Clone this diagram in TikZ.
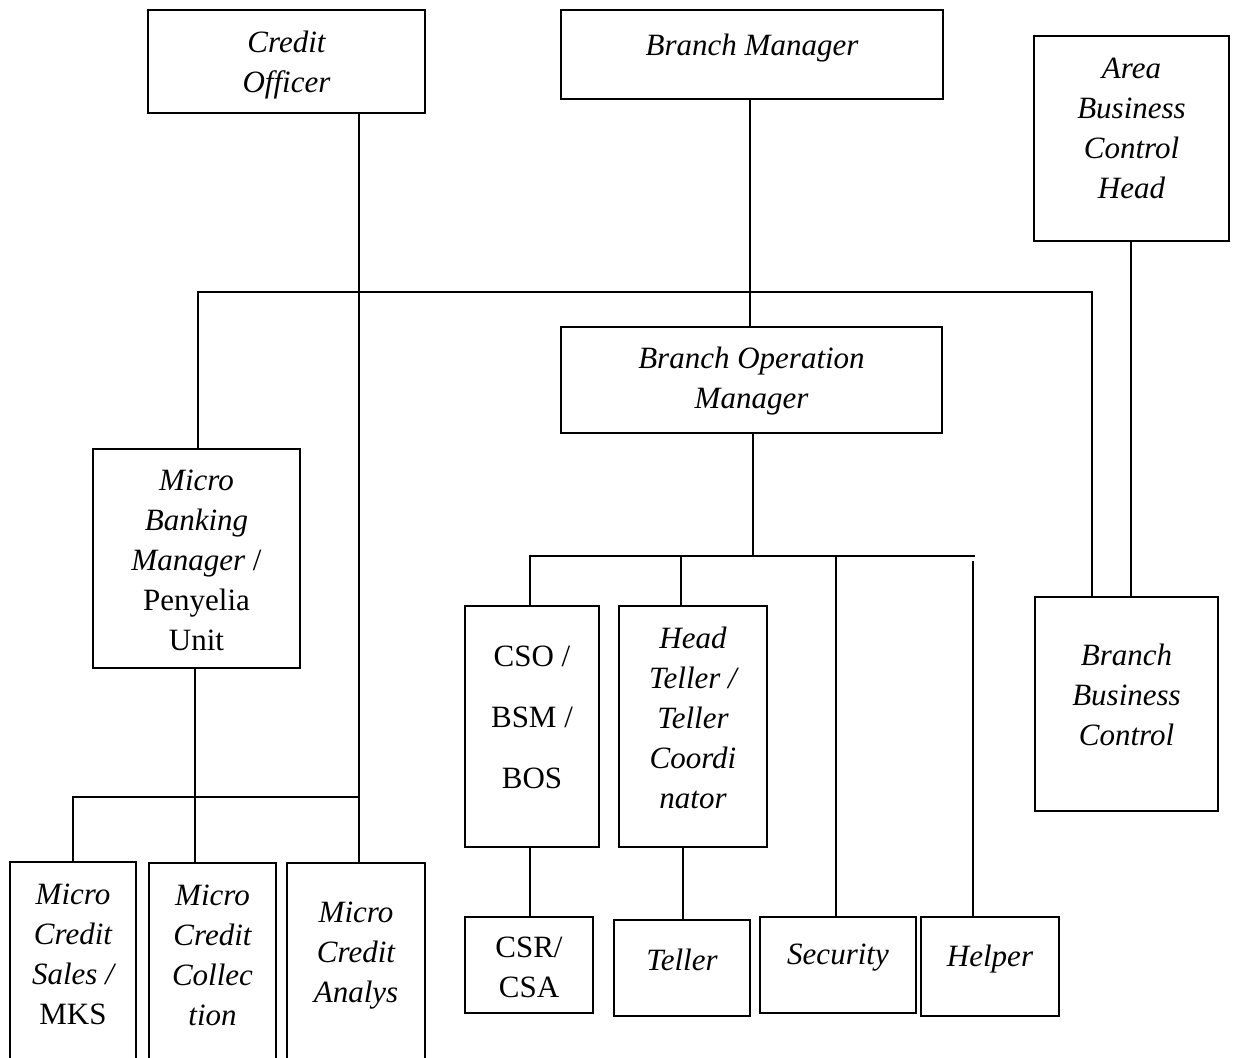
\documentclass[tikz,border=0pt]{standalone}
\usepackage{fontspec}
\setmainfont{Liberation Serif}
\begin{document}
\begin{tikzpicture}[x=1pt,y=-1pt,
  box/.style={draw, line width=2pt, inner sep=0pt, rectangle},
  txt/.style={align=center, inner sep=0pt, font=\fontsize{31}{40}\selectfont\itshape},
  conn/.style={line width=1.1pt}]
\useasboundingbox (0,0) rectangle (1246,1057);
\clip (0,0) rectangle (1246,1057);
% boxes
\node[box, minimum width=277, minimum height=103] (co) at (286.5,61.5) {};
\node[box, minimum width=382, minimum height=89] (bm) at (752,54.5) {};
\node[box, minimum width=195, minimum height=205] (abch) at (1131.5,138.5) {};
\node[box, minimum width=381, minimum height=106] (bom) at (751.5,380) {};
\node[box, minimum width=207, minimum height=219] (mbm) at (196.5,558.5) {};
\node[box, minimum width=134, minimum height=241] (cso) at (532,726.5) {};
\node[box, minimum width=148, minimum height=241] (ht) at (693,726.5) {};
\node[box, minimum width=183, minimum height=214] (bbc) at (1126.5,704) {};
\node[box, minimum width=126, minimum height=238] (mcs) at (73,981) {};
\node[box, minimum width=127, minimum height=237] (mcc) at (212.5,981.5) {};
\node[box, minimum width=138, minimum height=237] (mca) at (356,981.5) {};
\node[box, minimum width=128, minimum height=96] (csr) at (529,965) {};
\node[box, minimum width=136, minimum height=96] (tel) at (682,968) {};
\node[box, minimum width=156, minimum height=96] (sec) at (838,965) {};
\node[box, minimum width=138, minimum height=99] (hlp) at (990,966.5) {};
% texts
\node[txt] (co-t) at (286.5,65) {Credit\\Officer};
\node[txt] (bm-t) at (752,48) {Branch Manager};
\node[txt] (abch-t) at (1131.5,128) {Area\\Business\\Control\\Head};
\node[txt] (bom-t) at (751.5,381) {Branch Operation\\Manager};
\node[txt] (mbm-t) at (196.5,560) {Micro\\Banking\\Manager \upshape/\\\upshape Penyelia\\\upshape Unit};
\node[txt, font=\fontsize{31}{40}\selectfont\upshape] (cso-t) at (532,717.5) {CSO /\\[21pt]BSM /\\[21pt]BOS};
\node[txt] (ht-t) at (693,718) {Head\\Teller /\\Teller\\Coordi\\nator};
\node[txt] (bbc-t) at (1126.5,695) {Branch\\Business\\Control};
\node[txt] (mcs-t) at (73,954) {Micro\\Credit\\Sales /\\\upshape MKS};
\node[txt] (mcc-t) at (212.5,955) {Micro\\Credit\\Collec\\tion};
\node[txt] (mca-t) at (356,956) {Micro\\Credit\\Analys};
\node[txt, font=\fontsize{31}{40}\selectfont\upshape] (csr-t) at (529,967.5) {CSR/\\CSA};
\node[txt] (tel-t) at (682,960) {Teller};
\node[txt] (sec-t) at (838,958) {Security};
\node[txt] (hlp-t) at (990,959) {Helper};
% junction coordinates
\coordinate (hL) at (198,292);
\coordinate (hR) at (1092,292);
\coordinate (vCO) at (359,292);
\coordinate (h2L) at (530,556);
\coordinate (h2R) at (975,556);
\coordinate (h2M) at (753,556);
\coordinate (vHT) at (681,556);
\coordinate (vSEC) at (836,556);
\coordinate (vHLP) at (973,561);
\coordinate (h3L) at (73,797);
\coordinate (h3R) at (360,797);
\coordinate (vMB) at (195,797);
% connectors
\draw[conn] (vCO |- co.south) -- (vCO |- mca.north);
\draw[conn] (hL |- mbm.north) -- (hL) -- (hR) -- (hR |- bbc.north);
\draw[conn] (bm.south -| 750,0) -- (bom.north -| 750,0);
\draw[conn] (abch.south -| 1131,0) -- (bbc.north -| 1131,0);
\draw[conn] (bom.south -| h2M) -- (h2M);
\draw[conn] (h2L |- cso.north) -- (h2L) -- (h2R);
\draw[conn] (vHT) -- (vHT |- ht.north);
\draw[conn] (vSEC) -- (vSEC |- sec.north);
\draw[conn] (vHLP) -- (vHLP |- hlp.north);
\draw[conn] (cso.south -| h2L) -- (csr.north -| h2L);
\draw[conn] (ht.south -| 683,0) -- (tel.north -| 683,0);
\draw[conn] (mbm.south -| vMB) -- (vMB |- mcc.north);
\draw[conn] (h3L |- mcs.north) -- (h3L) -- (h3R);
\end{tikzpicture}
\end{document}
